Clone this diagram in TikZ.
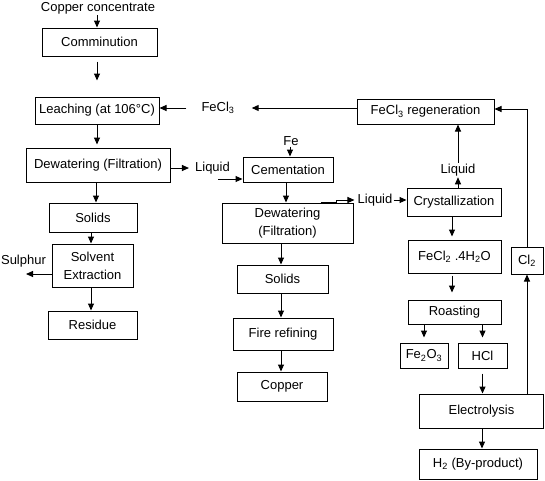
\documentclass[tikz,border=0pt]{standalone}
\usepackage{fontspec}
\setmainfont{Liberation Sans}
\usetikzlibrary{arrows.meta}
\newcommand\sbs[1]{\textsubscript{#1}}
\begin{document}
\begin{tikzpicture}[x=1pt,y=-1pt,
  box/.style={draw, fill=white, line width=1pt, inner sep=0pt, align=center},
  lbl/.style={inner sep=1pt, align=center},
  flow/.style={line width=1pt, -{Triangle[length=7pt,width=6pt]}},
  every node/.style={font=\fontsize{13}{18}\selectfont}]
\useasboundingbox (0,0) rectangle (545,480);
% left column
\node[lbl] (cc) at (98,8) {Copper concentrate};
\node[box, minimum width=115, minimum height=28] (comm) at (99.5,42) {Comminution};
\node[box, minimum width=124, minimum height=27] (leach) at (97,110.5) {Leaching (at 106°C)};
\node[box, minimum width=144, minimum height=34] (dew1) at (98,165) {Dewatering (Filtration)};
\node[box, minimum width=88, minimum height=29] (sol1) at (93,217.5) {Solids};
\node[box, minimum width=81, minimum height=43] (solv) at (92.5,265.5) {Solvent\\Extraction};
\node[box, minimum width=89, minimum height=28] (resid) at (92.5,325) {Residue};
\node[lbl] (sulph) at (23.5,261) {Sulphur};
% middle column
\node[lbl] (liq1) at (212.5,168) {Liquid};
\node[lbl] (fe) at (291,141) {Fe};
\node[box, minimum width=90, minimum height=25] (cem) at (288,169.5) {Cementation};
\node[box, minimum width=131, minimum height=40] (dew2) at (287.5,223) {Dewatering\\(Filtration)};
\node[box, minimum width=91, minimum height=28] (sol2) at (282.5,279) {Solids};
\node[box, minimum width=100, minimum height=32] (fire) at (283,334) {Fire refining};
\node[box, minimum width=90, minimum height=29] (copper) at (282,386.5) {Copper};
\node[lbl] (fecl3) at (218,108) {FeCl\sbs{3}};
% right column
\node[box, minimum width=137, minimum height=25] (regen) at (425.5,111.5) {FeCl\sbs{3} regeneration};
\node[lbl] (liq3) at (458,170) {Liquid};
\node[lbl] (liq2) at (375,200) {Liquid};
\node[box, minimum width=94, minimum height=28] (cryst) at (454,202) {Crystallization};
\node[box, minimum width=93, minimum height=33] (fecl2) at (454.5,256.5) {FeCl\sbs{2} .4H\sbs{2}O};
\node[box, minimum width=93, minimum height=24] (roast) at (454.5,312) {Roasting};
\node[box, minimum width=48, minimum height=25] (fe2o3) at (424,355.5) {Fe\sbs{2}O\sbs{3}};
\node[box, minimum width=49, minimum height=25] (hcl) at (482.5,355.5) {HCl};
\node[box, minimum width=124, minimum height=34] (elec) at (481.5,411) {Electrolysis};
\node[box, minimum width=118, minimum height=30] (h2) at (478,464) {H\sbs{2} (By-product)};
\node[box, minimum width=32, minimum height=27] (cl2) at (527,260.5) {Cl\sbs{2}};
% connectors left
\draw[flow] (cc.south -| 97,0) -- (comm.north -| 97,0);
\draw[flow] ([yshift=-5pt]comm.south -| 97,0) -- ([yshift=16pt]leach.north -| 97,0);
\draw[flow] (leach.south -| 97,0) -- ([yshift=3pt]dew1.north -| 97,0);
\draw[flow] (dew1.south -| 96,0) -- (sol1.north -| 96,0);
\draw[flow] (sol1.south -| 91,0) -- (solv.north -| 91,0);
\draw[flow] (solv.south -| 91,0) -- (resid.north -| 91,0);
\coordinate (sulphend) at (26,274);
\draw[flow] (solv.west |- sulphend) -- (sulphend);
% connectors middle
\draw[flow] (dew1.east |- 0,168) -- ([xshift=-5pt]liq1.west |- 0,168);
\draw[flow] ([xshift=-13pt]liq1.east |- 0,179) -- (cem.west |- 0,179);
\draw[flow] (fe.south -| 290,0) -- (cem.north -| 290,0);
\draw[flow] (cem.south -| 286,0) -- (dew2.north -| 286,0);
\draw[flow] ([xshift=-33pt]dew2.north east) -- ([xshift=-17pt]dew2.north east) |- ([xshift=-2pt]liq2.west);
\draw[flow] (dew2.south -| 281,0) -- (sol2.north -| 281,0);
\draw[flow] (sol2.south -| 281,0) -- (fire.north -| 281,0);
\draw[flow] (fire.south -| 281,0) -- (copper.north -| 281,0);
% connectors right
\draw[flow] (regen.west |- 0,108) -- ([xshift=16pt]fecl3.east |- 0,108);
\draw[flow] ([xshift=-14pt]fecl3.west |- 0,108) -- (leach.east |- 0,108);
\draw[flow] (liq2.east |- 0,200) -- (cryst.west |- 0,200);
\draw[flow] (cryst.north -| 458,0) -- (liq3.south -| 458,0);
\draw[flow] (liq3.north -| 458,0) -- (regen.south -| 458,0);
\draw[flow] (cryst.south -| 452,0) -- ([yshift=3pt]fecl2.north -| 452,0);
\draw[flow] ([yshift=-2pt]fecl2.south -| 452,0) -- ([yshift=7pt]roast.north -| 452,0);
\draw[flow] (roast.south -| fe2o3.north) -- ([yshift=5pt]fe2o3.north);
\draw[flow] (roast.south -| hcl.north) -- ([yshift=5pt]hcl.north);
\draw[flow] ([yshift=-5pt]hcl.south) -- (elec.north -| hcl.south);
\draw[flow] (elec.south -| 482,0) -- (h2.north -| 482,0);
\draw[flow] (elec.north -| cl2.south) -- (cl2.south);
\draw[flow] (cl2.north) |- (regen.east |- 0,109);
\end{tikzpicture}
\end{document}
